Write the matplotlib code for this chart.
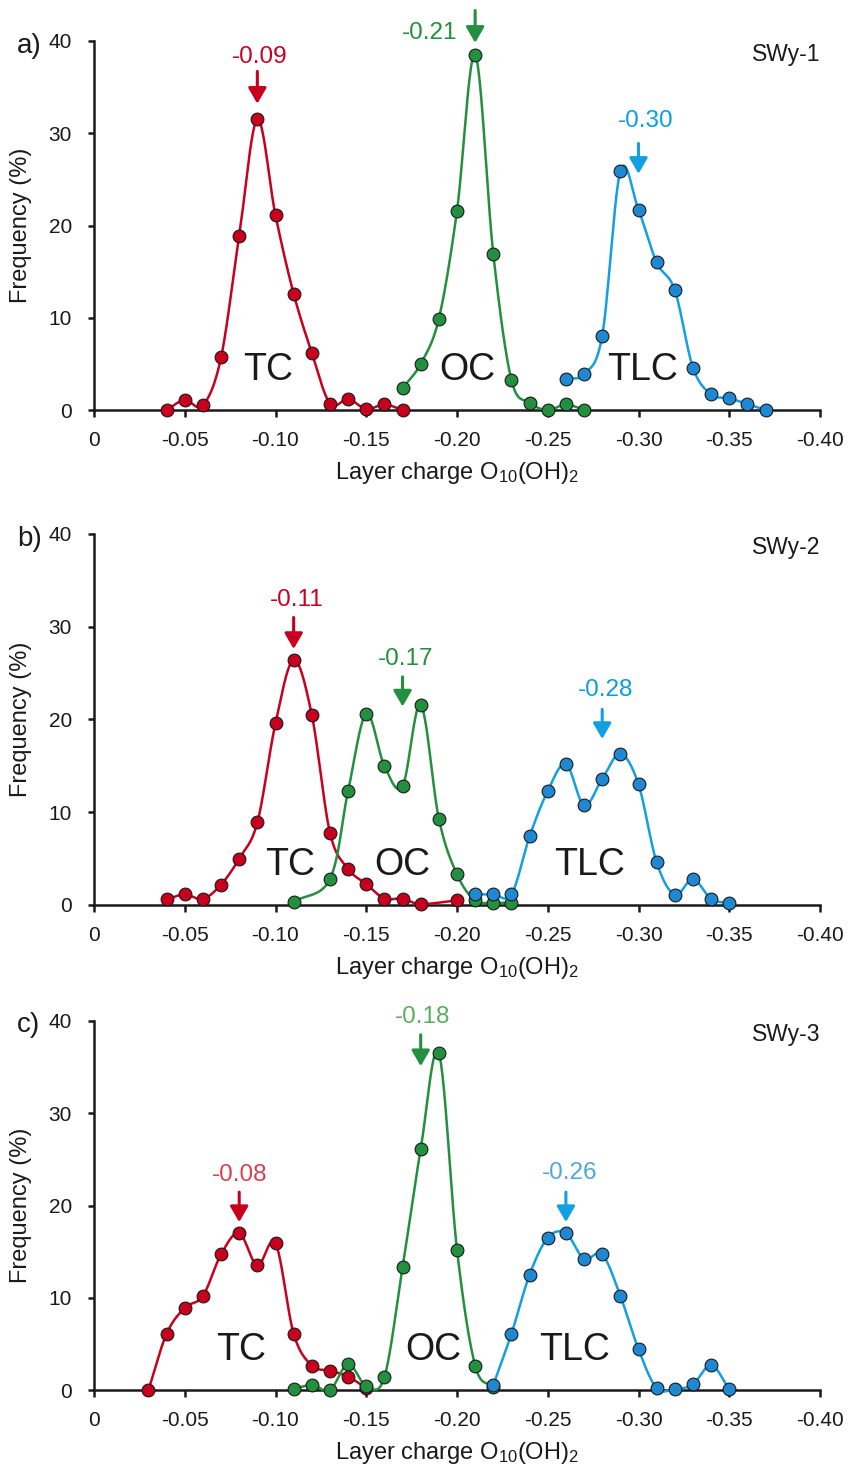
import numpy as np
import matplotlib
matplotlib.use("Agg")
import matplotlib.pyplot as plt

plt.rcParams['font.family'] = ['Liberation Sans', 'DejaVu Sans']
plt.rcParams['mathtext.fontset'] = 'custom'
plt.rcParams['mathtext.rm'] = 'Liberation Sans'
plt.rcParams['mathtext.default'] = 'regular'

# ---------------- data ----------------
# Panel a (SWy-1)
tc_a_x = [-0.04, -0.05, -0.06, -0.07, -0.08, -0.09, -0.10, -0.11, -0.12, -0.13, -0.14, -0.15, -0.16, -0.17]
tc_a_y = [0.0, 1.1, 0.5, 5.7, 18.9, 31.5, 21.1, 12.6, 6.2, 0.7, 1.2, 0.1, 0.6, 0.0]
oc_a_x = [-0.17, -0.18, -0.19, -0.20, -0.21, -0.22, -0.23, -0.24, -0.25, -0.26, -0.27]
oc_a_y = [2.35, 5.0, 9.9, 21.6, 38.5, 16.9, 3.25, 0.8, 0.0, 0.6, 0.0]
tlc_a_x = [-0.26, -0.27, -0.28, -0.29, -0.30, -0.31, -0.32, -0.33, -0.34, -0.35, -0.36, -0.37]
tlc_a_y = [3.4, 3.9, 8.05, 25.9, 21.7, 16.0, 13.0, 4.6, 1.7, 1.27, 0.65, 0.0]
modes_a = [-0.09, -0.21, -0.30]

# Panel b (SWy-2)
tc_b_x = [-0.04, -0.05, -0.06, -0.07, -0.08, -0.09, -0.10, -0.11, -0.12, -0.13, -0.14, -0.15, -0.16, -0.17, -0.18, -0.20]
tc_b_y = [0.6, 1.15, 0.65, 2.2, 5.0, 8.9, 19.6, 26.4, 20.5, 7.8, 3.9, 2.26, 0.7, 0.7, 0.1, 0.5]
oc_b_x = [-0.11, -0.13, -0.14, -0.15, -0.16, -0.17, -0.18, -0.19, -0.20, -0.21, -0.22, -0.23]
oc_b_y = [0.35, 2.8, 12.3, 20.6, 15.0, 12.8, 21.6, 9.3, 3.3, 0.5, 0.25, 0.25]
tlc_b_x = [-0.21, -0.22, -0.23, -0.24, -0.25, -0.26, -0.27, -0.28, -0.29, -0.30, -0.31, -0.32, -0.33, -0.34, -0.35]
tlc_b_y = [1.15, 1.15, 1.15, 7.4, 12.3, 15.2, 10.75, 13.6, 16.3, 13.0, 4.6, 1.1, 2.8, 0.65, 0.2]
modes_b = [-0.11, -0.17, -0.28]

# Panel c (SWy-3)
tc_c_x = [-0.03, -0.04, -0.05, -0.06, -0.07, -0.08, -0.09, -0.10, -0.11, -0.12, -0.13, -0.14, -0.15]
tc_c_y = [0.0, 6.1, 8.9, 10.2, 14.7, 17.0, 13.5, 15.9, 6.1, 2.65, 2.1, 1.45, 0.2]
oc_c_x = [-0.11, -0.12, -0.13, -0.14, -0.15, -0.16, -0.17, -0.18, -0.19, -0.20, -0.21, -0.22]
oc_c_y = [0.1, 0.55, 0.0, 2.8, 0.45, 1.4, 13.3, 26.1, 36.5, 15.2, 2.65, 0.3]
tlc_c_x = [-0.22, -0.23, -0.24, -0.25, -0.26, -0.27, -0.28, -0.29, -0.30, -0.31, -0.32, -0.33, -0.34, -0.35]
tlc_c_y = [0.55, 6.1, 12.5, 16.5, 17.0, 14.2, 14.7, 10.2, 4.4, 0.2, 0.1, 0.6, 2.7, 0.1]
modes_c = [-0.08, -0.18, -0.26]

samples = ['SWy-1', 'SWy-2', 'SWy-3']
panel_letters = ['a)', 'b)', 'c)']
region_names = ['TC', 'OC', 'TLC']
x_ticks = [0, -0.05, -0.10, -0.15, -0.20, -0.25, -0.30, -0.35, -0.40]
y_ticks = [0, 10, 20, 30, 40]

# ---------------- style ----------------
RED, GREEN, BLUE_L, BLUE_M = '#C8001E', '#22903F', '#12A0E2', '#1E88D2'
line_cols = [RED, GREEN, BLUE_L]
mark_cols = [RED, GREEN, BLUE_M]
txt_cols = [[RED, GREEN, '#0A9EE0'], [RED, GREEN, '#0A9EE0'], ['#D8404E', '#5BAE5E', '#4EA6DD']]
zorders = [3, 4, 5]


def smooth(x, y, n=24):
    """Catmull-Rom curve through the points (display smoothing only)."""
    P = np.column_stack([x, y]).astype(float)
    if len(P) < 3:
        return P[:, 0], P[:, 1]
    P = np.vstack([2 * P[0] - P[1], P, 2 * P[-1] - P[-2]])
    out = []
    t = np.linspace(0, 1, n, endpoint=False)[:, None]
    for i in range(1, len(P) - 2):
        p0, p1, p2, p3 = P[i - 1], P[i], P[i + 1], P[i + 2]
        c = 0.5 * ((2 * p1) + (-p0 + p2) * t + (2 * p0 - 5 * p1 + 4 * p2 - p3) * t ** 2
                   + (-p0 + 3 * p1 - 3 * p2 + p3) * t ** 3)
        out.append(c)
    out.append(P[-2][None, :])
    out = np.vstack(out)
    return out[:, 0], out[:, 1]


panels = [
    dict(series=[(tc_a_x, tc_a_y), (oc_a_x, oc_a_y), (tlc_a_x, tlc_a_y)], modes=modes_a,
         rect=[94 / 849, 1 - 410 / 1465, 726 / 849, 369 / 1465],
         # label (x,y) , arrow tail y, arrow tip y
         ann=[(-0.0915, 38.3, 36.7, 33.2), (-0.185, 40.9, 43.3, 39.8), (-0.304, 31.3, 28.9, 25.6)],
         regions=[(-0.096, 4.3), (-0.2055, 4.3), (-0.302, 4.3)]),
    dict(series=[(tc_b_x, tc_b_y), (oc_b_x, oc_b_y), (tlc_b_x, tlc_b_y)], modes=modes_b,
         rect=[94 / 849, 1 - 905 / 1465, 726 / 849, 371 / 1465],
         ann=[(-0.1115, 32.9, 31.0, 27.6), (-0.1715, 26.5, 24.6, 21.4), (-0.282, 23.2, 21.1, 17.9)],
         regions=[(-0.108, 4.3), (-0.170, 4.3), (-0.273, 4.3)]),
    dict(series=[(tc_c_x, tc_c_y), (oc_c_x, oc_c_y), (tlc_c_x, tlc_c_y)], modes=modes_c,
         rect=[94 / 849, 1 - 1390 / 1465, 726 / 849, 369 / 1465],
         ann=[(-0.0805, 23.3, 21.45, 18.2), (-0.181, 40.4, 38.5, 35.1), (-0.262, 23.5, 21.45, 18.2)],
         regions=[(-0.081, 4.3), (-0.187, 4.3), (-0.265, 4.3)]),
]

fig = plt.figure(figsize=(8.49, 14.65), dpi=100)
letter_y = [46, 539, 1025]

for pi, p in enumerate(panels):
    ax = fig.add_axes(p['rect'])
    for si, (xs, ys) in enumerate(p['series']):
        sx, sy = smooth(xs, ys)
        ax.plot(sx, sy, color=line_cols[si], lw=1.8, zorder=zorders[si], clip_on=False,
                solid_capstyle='round')
        ax.plot(xs, ys, linestyle='none', marker='o', ms=9.2, mfc=mark_cols[si],
                mec='#1a1a1a', mew=0.8, zorder=zorders[si] + 0.5, clip_on=False)
    # mode annotations
    for si, (m, (lx, ly, tail, tip)) in enumerate(zip(p['modes'], p['ann'])):
        ax.text(lx, ly, f"{m:.2f}", color=txt_cols[pi][si], fontsize=17.5,
                ha='center', va='center', clip_on=False, zorder=10)
        ax.annotate('', xy=(m, tip), xytext=(m, tail),
                    arrowprops=dict(arrowstyle='-|>,head_width=0.55,head_length=0.95',
                                    color=line_cols[si] if si != 2 else BLUE_L,
                                    lw=2.2, shrinkA=0, shrinkB=0),
                    annotation_clip=False, zorder=10)
    for si, (rx, ry) in enumerate(p['regions']):
        ax.text(rx, ry, region_names[si], fontsize=27, ha='center', va='center',
                color='#1a1a1a', zorder=8)
    ax.text(-0.40, 38.5, samples[pi], fontsize=16.5, ha='right', va='center', color='#1a1a1a')

    ax.set_xlim(0, -0.40)
    ax.set_ylim(0, 40)
    ax.set_xticks(x_ticks)
    ax.set_xticklabels(['0'] + [f"{t:.2f}" for t in x_ticks[1:]])
    ax.set_yticks(y_ticks)
    for s in ['top', 'right']:
        ax.spines[s].set_visible(False)
    for s in ['left', 'bottom']:
        ax.spines[s].set_linewidth(1.8)
        ax.spines[s].set_color('#1a1a1a')
    ax.tick_params(axis='x', direction='out', length=5, width=1.8, pad=10,
                   labelsize=15, colors='#1a1a1a')
    ax.tick_params(axis='y', direction='out', length=4, width=1.8, pad=12,
                   labelsize=15, colors='#1a1a1a')
    ax.set_xlabel('Layer charge O$_{10}$(OH)$_2$', fontsize=17, labelpad=7, color='#1a1a1a')
    ax.set_ylabel('Frequency (%)', fontsize=17, labelpad=12, color='#1a1a1a')
    fig.text(17 / 849, 1 - letter_y[pi] / 1465, panel_letters[pi], fontsize=20,
             ha='left', va='center', color='#1a1a1a')

fig.savefig('out.png', dpi=100)
